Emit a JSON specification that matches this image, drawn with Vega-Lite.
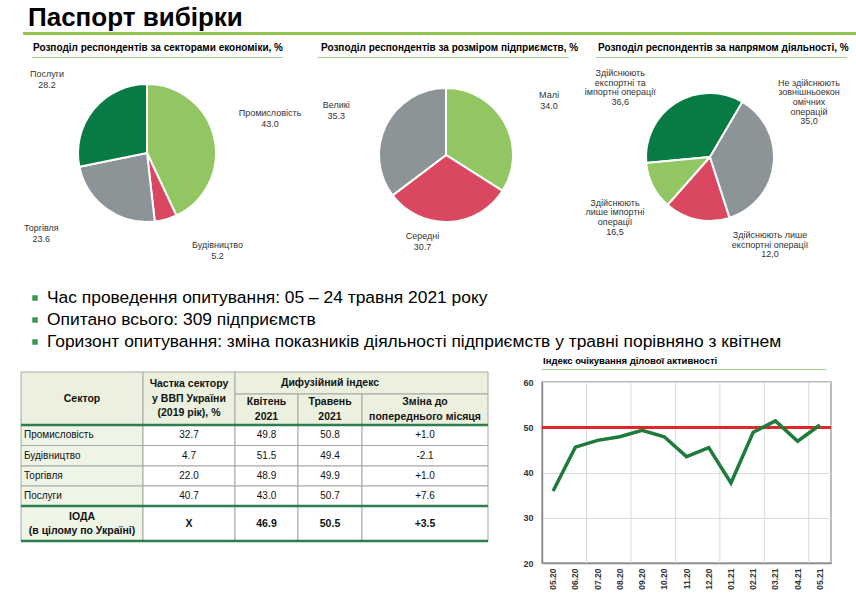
{
"$schema": "https://vega.github.io/schema/vega-lite/v6.json",
"padding": 0,
"background": "#ffffff",
"spacing": 0,
"config": {"view": {"stroke": null}, "font": "Liberation Sans", "concat": {"spacing": 0}},
"vconcat": [
 {"hconcat": [
   {"width": 28, "height": 32, "data": {"values": [{}]}, "mark": {"type": "point", "opacity": 0, "size": 0}},
   {"width": 828, "height": 32, "data": {"values": [{"t": "Паспорт вибірки"}]},
    "mark": {"type": "text", "align": "left", "baseline": "middle", "fontSize": 26, "fontWeight": "bold", "dy": 1.5, "color": "#000000"},
    "encoding": {"x": {"datum": 0, "type": "quantitative", "scale": {"domain": [0, 1]}, "axis": null}, "text": {"field": "t"}}}
  ], "spacing": 0, "bounds": "flush"},
 {"hconcat": [
   {"width": 23, "height": 3, "data": {"values": [{}]}, "mark": {"type": "point", "opacity": 0, "size": 0}},
   {"width": 833, "height": 3, "view": {"fill": "#92C44F", "stroke": null}, "data": {"values": [{}]}, "mark": {"type": "point", "opacity": 0, "size": 0}}
  ], "spacing": 0, "bounds": "flush"},
 {"hconcat": [
   {"width": 32, "height": 22, "data": {"values": [{}]}, "mark": {"type": "point", "opacity": 0, "size": 0}},
   {"width": 251, "height": 22, "data": {"values": [{"t": "Розподіл респондентів за секторами  економіки, %"}]},
    "mark": {"type": "text", "align": "left", "baseline": "middle", "fontSize": 10, "fontWeight": "bold", "dx": 1, "dy": 2, "color": "#000000"},
    "encoding": {"x": {"datum": 0, "type": "quantitative", "scale": {"domain": [0, 1]}, "axis": null}, "text": {"field": "t"}}},
   {"width": 35, "height": 22, "data": {"values": [{}]}, "mark": {"type": "point", "opacity": 0, "size": 0}},
   {"width": 251, "height": 22, "data": {"values": [{"t": "Розподіл респондентів за розміром  підприємств,  %"}]},
    "mark": {"type": "text", "align": "left", "baseline": "middle", "fontSize": 10, "fontWeight": "bold", "dx": 3, "dy": 2, "color": "#000000"},
    "encoding": {"x": {"datum": 0, "type": "quantitative", "scale": {"domain": [0, 1]}, "axis": null}, "text": {"field": "t"}}},
   {"width": 27, "height": 22, "data": {"values": [{}]}, "mark": {"type": "point", "opacity": 0, "size": 0}},
   {"width": 251, "height": 22, "data": {"values": [{"t": "Розподіл респондентів за напрямом  діяльності, %"}]},
    "mark": {"type": "text", "align": "left", "baseline": "middle", "fontSize": 10, "fontWeight": "bold", "dx": 2, "dy": 2, "color": "#000000"},
    "encoding": {"x": {"datum": 0, "type": "quantitative", "scale": {"domain": [0, 1]}, "axis": null}, "text": {"field": "t"}}}
  ], "spacing": 0, "bounds": "flush"},
 {"hconcat": [
   {"width": 32, "height": 1, "data": {"values": [{}]}, "mark": {"type": "point", "opacity": 0, "size": 0}},
   {"width": 251, "height": 1, "view": {"fill": "#A9D18E", "stroke": null}, "data": {"values": [{}]}, "mark": {"type": "point", "opacity": 0, "size": 0}},
   {"width": 35, "height": 1, "data": {"values": [{}]}, "mark": {"type": "point", "opacity": 0, "size": 0}},
   {"width": 251, "height": 1, "view": {"fill": "#A9D18E", "stroke": null}, "data": {"values": [{}]}, "mark": {"type": "point", "opacity": 0, "size": 0}},
   {"width": 27, "height": 1, "data": {"values": [{}]}, "mark": {"type": "point", "opacity": 0, "size": 0}},
   {"width": 251, "height": 1, "view": {"fill": "#A9D18E", "stroke": null}, "data": {"values": [{}]}, "mark": {"type": "point", "opacity": 0, "size": 0}}
  ], "spacing": 0, "bounds": "flush"},
 {"hconcat": [
   {"width": 294, "height": 190,
    "data": {"values": [
      {"i": 1, "name": "Промисловість", "v": 43.0, "lab": "Промисловість\n43.0"},
      {"i": 2, "name": "Будівництво", "v": 5.2, "lab": "Будівництво\n5.2"},
      {"i": 3, "name": "Торгівля", "v": 23.6, "lab": "Торгівля\n23.6"},
      {"i": 4, "name": "Послуги", "v": 28.2, "lab": "Послуги\n28.2"}]},
    "layer": [
     {"mark": {"type": "arc", "outerRadius": 69, "stroke": "#ffffff", "strokeWidth": 2},
      "encoding": {
        "theta": {"field": "v", "type": "quantitative", "stack": true},
        "order": {"field": "i", "type": "quantitative"},
        "color": {"field": "name", "type": "nominal", "legend": null,
          "scale": {"domain": ["Промисловість", "Будівництво", "Торгівля", "Послуги"], "range": ["#92C662", "#DA4761", "#8D9498", "#087B45"]}}}},
     {"transform": [{"stack": "v", "groupby": [], "sort": [{"field": "i", "order": "ascending"}], "as": ["s0", "s1"]}, {"filter": "datum.i == 1"}],
      "mark": {"type": "text", "radius": 100, "fontSize": 9, "lineBreak": "\n", "lineHeight": 11, "color": "#333333", "dx": 123, "dy": 59.5},
      "encoding": {"theta": {"field": "s0", "type": "quantitative", "stack": null}, "text": {"field": "lab"}}},
     {"transform": [{"stack": "v", "groupby": [], "sort": [{"field": "i", "order": "ascending"}], "as": ["s0", "s1"]}, {"filter": "datum.i == 2"}],
      "mark": {"type": "text", "radius": 100, "fontSize": 9, "lineBreak": "\n", "lineHeight": 11, "color": "#333333", "dx": 28, "dy": 1.5},
      "encoding": {"theta": {"field": "s0", "type": "quantitative", "stack": null}, "text": {"field": "lab"}}},
     {"transform": [{"stack": "v", "groupby": [], "sort": [{"field": "i", "order": "ascending"}], "as": ["s0", "s1"]}, {"filter": "datum.i == 3"}],
      "mark": {"type": "text", "radius": 100, "fontSize": 9, "lineBreak": "\n", "lineHeight": 11, "color": "#333333", "dx": -117, "dy": -24.5},
      "encoding": {"theta": {"field": "s0", "type": "quantitative", "stack": null}, "text": {"field": "lab"}}},
     {"transform": [{"stack": "v", "groupby": [], "sort": [{"field": "i", "order": "ascending"}], "as": ["s0", "s1"]}, {"filter": "datum.i == 4"}],
      "mark": {"type": "text", "radius": 100, "fontSize": 9, "lineBreak": "\n", "lineHeight": 11, "color": "#333333", "dx": -2, "dy": -98.5},
      "encoding": {"theta": {"field": "s0", "type": "quantitative", "stack": null}, "text": {"field": "lab"}}}
    ]},
   {"width": 304, "height": 194,
    "data": {"values": [
      {"i": 1, "name": "Малі", "v": 34.0, "lab": "Малі\n34.0"},
      {"i": 2, "name": "Середні", "v": 30.7, "lab": "Середні\n30.7"},
      {"i": 3, "name": "Великі", "v": 35.3, "lab": "Великі\n35.3"}]},
    "layer": [
     {"mark": {"type": "arc", "outerRadius": 67, "stroke": "#ffffff", "strokeWidth": 2},
      "encoding": {
        "theta": {"field": "v", "type": "quantitative", "stack": true},
        "order": {"field": "i", "type": "quantitative"},
        "color": {"field": "name", "type": "nominal", "legend": null,
          "scale": {"domain": ["Малі", "Середні", "Великі"], "range": ["#92C662", "#DA4761", "#8D9498"]}}}},
     {"transform": [{"stack": "v", "groupby": [], "sort": [{"field": "i", "order": "ascending"}], "as": ["s0", "s1"]}, {"filter": "datum.i == 1"}],
      "mark": {"type": "text", "radius": 100, "fontSize": 9, "lineBreak": "\n", "lineHeight": 11, "color": "#333333", "dx": 103, "dy": 39.5},
      "encoding": {"theta": {"field": "s0", "type": "quantitative", "stack": null}, "text": {"field": "lab"}}},
     {"transform": [{"stack": "v", "groupby": [], "sort": [{"field": "i", "order": "ascending"}], "as": ["s0", "s1"]}, {"filter": "datum.i == 2"}],
      "mark": {"type": "text", "radius": 100, "fontSize": 9, "lineBreak": "\n", "lineHeight": 11, "color": "#333333", "dx": -108, "dy": 27.5},
      "encoding": {"theta": {"field": "s0", "type": "quantitative", "stack": null}, "text": {"field": "lab"}}},
     {"transform": [{"stack": "v", "groupby": [], "sort": [{"field": "i", "order": "ascending"}], "as": ["s0", "s1"]}, {"filter": "datum.i == 3"}],
      "mark": {"type": "text", "radius": 100, "fontSize": 9, "lineBreak": "\n", "lineHeight": 11, "color": "#333333", "dx": -30, "dy": -110.5},
      "encoding": {"theta": {"field": "s0", "type": "quantitative", "stack": null}, "text": {"field": "lab"}}}
    ]},
   {"width": 224, "height": 198,
    "data": {"values": [
      {"i": 1, "name": "Не здійснюють", "v": 35.0, "lab": "Не здійснюють\nзовнішньоекон\nомічних\nоперацій\n35,0"},
      {"i": 2, "name": "Лише експортні", "v": 12.0, "lab": "Здійснюють лише\nекспортні операції\n12,0"},
      {"i": 3, "name": "Лише імпортні", "v": 16.5, "lab": "Здійснюють\nлише імпортні\nоперації\n16,5"},
      {"i": 4, "name": "Експортні та імпортні", "v": 36.6, "lab": "Здійснюють\nекспортні та\nімпортні операції\n36,6"}]},
    "layer": [
     {"mark": {"type": "arc", "outerRadius": 64, "stroke": "#ffffff", "strokeWidth": 2, "thetaOffset": 0.532, "theta2Offset": 0.532},
      "encoding": {
        "theta": {"field": "v", "type": "quantitative", "stack": true},
        "order": {"field": "i", "type": "quantitative", "sort": "descending"},
        "color": {"field": "name", "type": "nominal", "legend": null,
          "scale": {"domain": ["Не здійснюють", "Лише експортні", "Лише імпортні", "Експортні та імпортні"], "range": ["#8D9498", "#DA4761", "#92C662", "#087B45"]}}}},
     {"transform": [{"stack": "v", "groupby": [], "sort": [{"field": "i", "order": "ascending"}], "as": ["s0", "s1"]}, {"filter": "datum.i == 1"}],
      "mark": {"type": "text", "radius": 100, "fontSize": 9, "lineBreak": "\n", "lineHeight": 9.6, "color": "#333333", "dx": 99, "dy": 25.8},
      "encoding": {"theta": {"field": "s0", "type": "quantitative", "stack": null}, "text": {"field": "lab"}}},
     {"transform": [{"stack": "v", "groupby": [], "sort": [{"field": "i", "order": "ascending"}], "as": ["s0", "s1"]}, {"filter": "datum.i == 2"}],
      "mark": {"type": "text", "radius": 100, "fontSize": 9, "lineBreak": "\n", "lineHeight": 9.6, "color": "#333333", "dx": -21, "dy": 19.4},
      "encoding": {"theta": {"field": "s0", "type": "quantitative", "stack": null}, "text": {"field": "lab"}}},
     {"transform": [{"stack": "v", "groupby": [], "sort": [{"field": "i", "order": "ascending"}], "as": ["s0", "s1"]}, {"filter": "datum.i == 3"}],
      "mark": {"type": "text", "radius": 100, "fontSize": 9, "lineBreak": "\n", "lineHeight": 9.6, "color": "#333333", "dx": -114, "dy": -52.4},
      "encoding": {"theta": {"field": "s0", "type": "quantitative", "stack": null}, "text": {"field": "lab"}}},
     {"transform": [{"stack": "v", "groupby": [], "sort": [{"field": "i", "order": "ascending"}], "as": ["s0", "s1"]}, {"filter": "datum.i == 4"}],
      "mark": {"type": "text", "radius": 100, "fontSize": 9, "lineBreak": "\n", "lineHeight": 9.6, "color": "#333333", "dx": -15, "dy": -150.4},
      "encoding": {"theta": {"field": "s0", "type": "quantitative", "stack": null}, "text": {"field": "lab"}}}
    ]}
  ], "spacing": 0, "bounds": "flush"},
 {"width": 856, "height": 26, "data": {"values": [{}]}, "mark": {"type": "point", "opacity": 0, "size": 0}},
 {"hconcat": [
   {"width": 35, "height": 66, "data": {"values": [{}]}, "mark": {"type": "point", "opacity": 0, "size": 0}},
   {"width": 821, "height": 66,
    "data": {"values": [
      {"n": 1, "t": "Час проведення опитування: 05 – 24 травня 2021 року"},
      {"n": 2, "t": "Опитано всього: 309 підприємств"},
      {"n": 3, "t": "Горизонт опитування: зміна показників діяльності підприємств у травні порівняно з квітнем"}]},
    "encoding": {
      "x": {"datum": 0, "type": "quantitative", "scale": {"domain": [0, 1]}, "axis": null},
      "y": {"field": "n", "type": "ordinal", "scale": {"type": "point", "padding": 0.5}, "axis": null}
    },
    "layer": [
     {"mark": {"type": "square", "size": 30, "color": "#3B9A4A", "filled": true, "opacity": 1}},
     {"mark": {"type": "text", "align": "left", "baseline": "middle", "dx": 12, "fontSize": 17.4, "font": "Liberation Sans Narrow, Arial Narrow, Liberation Sans", "color": "#000000"},
      "encoding": {"text": {"field": "t"}}}
    ]}
  ], "spacing": 0, "bounds": "flush"},
 {"hconcat": [
   {"width": 21, "height": 10, "data": {"values": [{}]}, "mark": {"type": "point", "opacity": 0, "size": 0}},
   {"width": 467, "height": 188,
    "data": {"values": [
      {"c0": 0, "c1": 1, "r0": 0, "r1": 2, "cm": 0.5, "rm": 1, "zone": "head", "t": "Сектор"},
      {"c0": 1, "c1": 2, "r0": 0, "r1": 2, "cm": 1.5, "rm": 1, "zone": "head", "t": "Частка сектору\nу ВВП України\n(2019 рік), %"},
      {"c0": 2, "c1": 5, "r0": 0, "r1": 1, "cm": 3.5, "rm": 0.5, "zone": "head", "t": "Дифузійний індекс"},
      {"c0": 2, "c1": 3, "r0": 1, "r1": 2, "cm": 2.5, "rm": 1.5, "zone": "head", "t": "Квітень\n2021"},
      {"c0": 3, "c1": 4, "r0": 1, "r1": 2, "cm": 3.5, "rm": 1.5, "zone": "head", "t": "Травень\n2021"},
      {"c0": 4, "c1": 5, "r0": 1, "r1": 2, "cm": 4.5, "rm": 1.5, "zone": "head", "t": "Зміна до\nпопереднього місяця"},
      {"c0": 0, "c1": 1, "r0": 2, "r1": 3, "cm": 0.5, "rm": 2.5, "zone": "side", "t": "Промисловість"},
      {"c0": 1, "c1": 2, "r0": 2, "r1": 3, "cm": 1.5, "rm": 2.5, "zone": "body", "t": "32.7"},
      {"c0": 2, "c1": 3, "r0": 2, "r1": 3, "cm": 2.5, "rm": 2.5, "zone": "body", "t": "49.8"},
      {"c0": 3, "c1": 4, "r0": 2, "r1": 3, "cm": 3.5, "rm": 2.5, "zone": "body", "t": "50.8"},
      {"c0": 4, "c1": 5, "r0": 2, "r1": 3, "cm": 4.5, "rm": 2.5, "zone": "body", "t": "+1.0"},
      {"c0": 0, "c1": 1, "r0": 3, "r1": 4, "cm": 0.5, "rm": 3.5, "zone": "side", "t": "Будівництво"},
      {"c0": 1, "c1": 2, "r0": 3, "r1": 4, "cm": 1.5, "rm": 3.5, "zone": "body", "t": "4.7"},
      {"c0": 2, "c1": 3, "r0": 3, "r1": 4, "cm": 2.5, "rm": 3.5, "zone": "body", "t": "51.5"},
      {"c0": 3, "c1": 4, "r0": 3, "r1": 4, "cm": 3.5, "rm": 3.5, "zone": "body", "t": "49.4"},
      {"c0": 4, "c1": 5, "r0": 3, "r1": 4, "cm": 4.5, "rm": 3.5, "zone": "body", "t": "-2.1"},
      {"c0": 0, "c1": 1, "r0": 4, "r1": 5, "cm": 0.5, "rm": 4.5, "zone": "side", "t": "Торгівля"},
      {"c0": 1, "c1": 2, "r0": 4, "r1": 5, "cm": 1.5, "rm": 4.5, "zone": "body", "t": "22.0"},
      {"c0": 2, "c1": 3, "r0": 4, "r1": 5, "cm": 2.5, "rm": 4.5, "zone": "body", "t": "48.9"},
      {"c0": 3, "c1": 4, "r0": 4, "r1": 5, "cm": 3.5, "rm": 4.5, "zone": "body", "t": "49.9"},
      {"c0": 4, "c1": 5, "r0": 4, "r1": 5, "cm": 4.5, "rm": 4.5, "zone": "body", "t": "+1.0"},
      {"c0": 0, "c1": 1, "r0": 5, "r1": 6, "cm": 0.5, "rm": 5.5, "zone": "side", "t": "Послуги"},
      {"c0": 1, "c1": 2, "r0": 5, "r1": 6, "cm": 1.5, "rm": 5.5, "zone": "body", "t": "40.7"},
      {"c0": 2, "c1": 3, "r0": 5, "r1": 6, "cm": 2.5, "rm": 5.5, "zone": "body", "t": "43.0"},
      {"c0": 3, "c1": 4, "r0": 5, "r1": 6, "cm": 3.5, "rm": 5.5, "zone": "body", "t": "50.7"},
      {"c0": 4, "c1": 5, "r0": 5, "r1": 6, "cm": 4.5, "rm": 5.5, "zone": "body", "t": "+7.6"},
      {"c0": 0, "c1": 1, "r0": 6, "r1": 7, "cm": 0.5, "rm": 6.5, "zone": "side", "t": "ІОДА\n(в цілому по Україні)"},
      {"c0": 1, "c1": 2, "r0": 6, "r1": 7, "cm": 1.5, "rm": 6.5, "zone": "body", "t": "X"},
      {"c0": 2, "c1": 3, "r0": 6, "r1": 7, "cm": 2.5, "rm": 6.5, "zone": "body", "t": "46.9"},
      {"c0": 3, "c1": 4, "r0": 6, "r1": 7, "cm": 3.5, "rm": 6.5, "zone": "body", "t": "50.5"},
      {"c0": 4, "c1": 5, "r0": 6, "r1": 7, "cm": 4.5, "rm": 6.5, "zone": "body", "t": "+3.5"}
    ]},
    "layer": [
     {"mark": {"type": "rect", "stroke": "#A6A6A6", "strokeWidth": 1},
      "encoding": {
        "x": {"field": "c0", "type": "quantitative", "axis": null, "scale": {"domain": [0, 1, 2, 3, 4, 5], "range": [0, 122, 214, 277, 341, 467], "nice": false, "zero": false}},
        "x2": {"field": "c1"},
        "y": {"field": "r0", "type": "quantitative", "axis": null, "scale": {"domain": [0, 1, 2, 3, 4, 5, 6, 7], "range": [19, 41, 72, 92.5, 113, 133, 153, 188], "nice": false, "zero": false}},
        "y2": {"field": "r1"},
        "fill": {"field": "zone", "type": "nominal", "legend": null, "scale": {"domain": ["head", "side", "body"], "range": ["#EBF1DE", "#EEF4E6", "#FFFFFF"]}}
      }},
     {"data": {"values": [{"r": 2}, {"r": 6}, {"r": 7}]},
      "mark": {"type": "rule", "color": "#2E7D4F", "strokeWidth": 2.5},
      "encoding": {
        "x": {"datum": 0, "type": "quantitative"},
        "x2": {"datum": 5},
        "y": {"field": "r", "type": "quantitative"}
      }},
     {"transform": [{"filter": "datum.zone == 'head' && datum.c0 == 0"}],
      "mark": {"type": "text", "fontSize": 10.5, "fontWeight": "bold", "dy": 4.5, "color": "#111111"},
      "encoding": {"x": {"field": "cm", "type": "quantitative"}, "y": {"field": "rm", "type": "quantitative"}, "text": {"field": "t"}}},
     {"transform": [{"filter": "datum.zone == 'head' && datum.c0 == 1"}],
      "mark": {"type": "text", "fontSize": 10.5, "fontWeight": "bold", "lineBreak": "\n", "lineHeight": 14.5, "dy": -10, "color": "#111111"},
      "encoding": {"x": {"field": "cm", "type": "quantitative"}, "y": {"field": "rm", "type": "quantitative"}, "text": {"field": "t"}}},
     {"transform": [{"filter": "datum.zone == 'head' && datum.r0 == 0 && datum.c0 == 2"}],
      "mark": {"type": "text", "fontSize": 10.5, "fontWeight": "bold", "color": "#111111"},
      "encoding": {"x": {"field": "cm", "type": "quantitative"}, "y": {"field": "rm", "type": "quantitative"}, "text": {"field": "t"}}},
     {"transform": [{"filter": "datum.zone == 'head' && datum.r0 == 1"}],
      "mark": {"type": "text", "fontSize": 10.5, "fontWeight": "bold", "lineBreak": "\n", "lineHeight": 15, "dy": -7.5, "color": "#111111"},
      "encoding": {"x": {"field": "cm", "type": "quantitative"}, "y": {"field": "rm", "type": "quantitative"}, "text": {"field": "t"}}},
     {"transform": [{"filter": "datum.zone == 'side' && datum.r0 < 6"}],
      "mark": {"type": "text", "fontSize": 10, "align": "left", "dx": 3, "color": "#111111"},
      "encoding": {"x": {"field": "c0", "type": "quantitative"}, "y": {"field": "rm", "type": "quantitative"}, "text": {"field": "t"}}},
     {"transform": [{"filter": "datum.zone == 'body' && datum.r0 < 6"}],
      "mark": {"type": "text", "fontSize": 10, "color": "#111111"},
      "encoding": {"x": {"field": "cm", "type": "quantitative"}, "y": {"field": "rm", "type": "quantitative"}, "text": {"field": "t"}}},
     {"transform": [{"filter": "datum.r0 == 6 && datum.c0 == 0"}],
      "mark": {"type": "text", "fontSize": 10.5, "fontWeight": "bold", "lineBreak": "\n", "lineHeight": 14, "dy": -7, "color": "#111111"},
      "encoding": {"x": {"field": "cm", "type": "quantitative"}, "y": {"field": "rm", "type": "quantitative"}, "text": {"field": "t"}}},
     {"transform": [{"filter": "datum.r0 == 6 && datum.c0 > 0"}],
      "mark": {"type": "text", "fontSize": 10.5, "fontWeight": "bold", "color": "#111111"},
      "encoding": {"x": {"field": "cm", "type": "quantitative"}, "y": {"field": "rm", "type": "quantitative"}, "text": {"field": "t"}}}
    ]},
   {"width": 54, "height": 10, "data": {"values": [{}]}, "mark": {"type": "point", "opacity": 0, "size": 0}},
   {"vconcat": [
     {"width": 289, "height": 16, "data": {"values": [{"t": "Індекс очікування ділової активності"}]},
      "mark": {"type": "text", "align": "left", "baseline": "middle", "fontSize": 9.5, "fontWeight": "bold", "dx": 1, "color": "#000000"},
      "encoding": {"x": {"datum": 0, "type": "quantitative", "scale": {"domain": [0, 1]}, "axis": null}, "text": {"field": "t"}}},
     {"width": 284, "height": 1, "view": {"fill": "#A9D18E", "stroke": null}, "data": {"values": [{}]}, "mark": {"type": "point", "opacity": 0, "size": 0}},
     {"width": 289, "height": 12, "data": {"values": [{}]}, "mark": {"type": "point", "opacity": 0, "size": 0}},
     {"width": 289, "height": 181,
      "view": {"stroke": "#A6A6A6", "strokeWidth": 1.5},
      "data": {"values": [
        {"m": "05.20", "v": 35.9}, {"m": "06.20", "v": 45.6}, {"m": "07.20", "v": 47.1}, {"m": "08.20", "v": 47.9},
        {"m": "09.20", "v": 49.3}, {"m": "10.20", "v": 47.9}, {"m": "11.20", "v": 43.5}, {"m": "12.20", "v": 45.5},
        {"m": "01.21", "v": 37.7}, {"m": "02.21", "v": 48.9}, {"m": "03.21", "v": 51.4}, {"m": "04.21", "v": 46.9},
        {"m": "05.21", "v": 50.5}]},
      "layer": [
       {"transform": [{"filter": {"field": "m", "oneOf": ["07.20", "09.20", "11.20", "01.21", "03.21", "05.21"]}}],
        "mark": {"type": "rule", "color": "#D9D9D9", "strokeWidth": 1},
        "encoding": {"x": {"field": "m", "type": "ordinal", "bandPosition": 0,
          "scale": {"type": "band", "paddingInner": 0, "paddingOuter": 0, "domain": ["05.20", "06.20", "07.20", "08.20", "09.20", "10.20", "11.20", "12.20", "01.21", "02.21", "03.21", "04.21", "05.21"]}}}},
       {"mark": {"type": "rule", "color": "#E3252B", "strokeWidth": 2},
        "encoding": {"y": {"datum": 50, "type": "quantitative"}}},
       {"mark": {"type": "line", "color": "#1E7B3C", "strokeWidth": 3.5, "strokeJoin": "miter"},
        "encoding": {
          "x": {"field": "m", "type": "ordinal", "bandPosition": 0.5,
            "scale": {"type": "band", "paddingInner": 0, "paddingOuter": 0, "domain": ["05.20", "06.20", "07.20", "08.20", "09.20", "10.20", "11.20", "12.20", "01.21", "02.21", "03.21", "04.21", "05.21"]},
            "axis": {"labelAngle": 270, "labelFontWeight": "bold", "labelFontSize": 8.5, "labelColor": "#333333", "ticks": false, "grid": false, "domainColor": "#8C8C8C", "domainWidth": 1.5, "title": null, "labelPadding": 5}},
          "y": {"field": "v", "type": "quantitative", "scale": {"domain": [20, 60], "nice": false, "zero": false},
            "axis": {"values": [20, 30, 40, 50, 60], "grid": true, "gridColor": "#D9D9D9", "ticks": false, "domainColor": "#8C8C8C", "domainWidth": 1.5, "labelFontWeight": "bold", "labelFontSize": 9, "labelColor": "#333333", "labelPadding": 9, "title": null}}
        }}
      ]}
    ], "spacing": 0, "bounds": "flush"}
  ], "spacing": 0, "bounds": "flush"}
]
}
